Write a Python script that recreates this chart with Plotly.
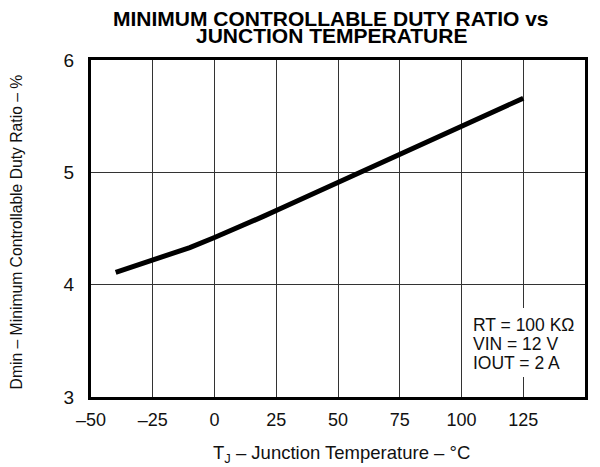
import plotly.graph_objects as go

temps = [-40, -30, -25, -20, -10, 0, 10, 20, 25, 30, 40, 50, 60, 70, 75, 80, 90, 100, 110, 120, 125]
dmin = [4.11, 4.18, 4.22, 4.25, 4.33, 4.42, 4.51, 4.61, 4.66, 4.71, 4.80, 4.90, 5.00, 5.10, 5.155, 5.21, 5.31, 5.41, 5.51, 5.61, 5.66]

x_ticks = [-50, -25, 0, 25, 50, 75, 100, 125, 150]
x_tick_labels = ["–50", "–25", "0", "25", "50", "75", "100", "125", "150"]
y_ticks = [3, 4, 5, 6]
y_tick_labels = ["3", "4", "5", "6"]

title_lines = ["MINIMUM CONTROLLABLE DUTY RATIO vs", "JUNCTION TEMPERATURE"]
x_title = "T<sub>J</sub> – Junction Temperature – °C"
y_title = "Dmin – Minimum Controllable Duty Ratio – %"
conditions = ["RT = 100 KΩ", "VIN = 12 V", "IOUT = 2 A"]

font = "Liberation Sans, Arial, sans-serif"
ink = "#111"

fig = go.Figure()
fig.add_trace(go.Scatter(x=temps, y=dmin, mode="lines",
                         line=dict(color="black", width=5),
                         showlegend=False, hoverinfo="skip"))

# page has an 8px body margin, so the figure is 592x459 placed at (8, 8)
fig.update_layout(
    width=592, height=459,
    margin=dict(l=83, r=13, t=52, b=70),
    paper_bgcolor="white", plot_bgcolor="white",
    font=dict(family=font, color=ink),
    xaxis=dict(range=[-50, 150], tickvals=x_ticks, ticktext=x_tick_labels,
               showgrid=True, gridcolor="#333", gridwidth=1,
               showline=True, linecolor="black", linewidth=3, mirror=True,
               ticks="", tickfont=dict(size=18, color=ink), zeroline=False,
               ticklabelstandoff=4),
    yaxis=dict(range=[3, 6], tickvals=y_ticks, ticktext=y_tick_labels,
               showgrid=True, gridcolor="#333", gridwidth=1,
               showline=True, linecolor="black", linewidth=3, mirror=True,
               ticks="", tickfont=dict(size=19, color=ink), zeroline=False,
               ticklabelstandoff=10),
)

# title (two tightly spaced lines)
for txt, yy in zip(title_lines, [1.1240, 1.0720]):
    fig.add_annotation(x=0.486, y=yy, xref="paper", yref="paper",
                       xanchor="center", yanchor="middle", showarrow=False,
                       text="<b>" + txt + "</b>",
                       font=dict(size=21, color="black", family=font))

# axis titles
fig.add_annotation(x=0.507, y=-0.170, xref="paper", yref="paper",
                   xanchor="center", yanchor="middle", showarrow=False,
                   text=x_title, font=dict(size=18.5, color=ink, family=font))
fig.add_annotation(x=-0.150, y=0.491, xref="paper", yref="paper",
                   xanchor="center", yanchor="middle", showarrow=False,
                   textangle=-90, text=y_title,
                   font=dict(size=15.7, color=ink, family=font))

# white box behind the conditions text (hides the grid line there)
fig.add_shape(type="rect", xref="paper", yref="paper",
              x0=0.760, x1=0.994, y0=0.0593, y1=0.2641,
              fillcolor="white", line=dict(width=0), layer="above")
for txt, yy in zip(conditions, [0.2151, 0.1582, 0.1018]):
    fig.add_annotation(x=0.770, y=yy, xref="paper", yref="paper",
                       xanchor="left", yanchor="middle", showarrow=False,
                       text=txt, font=dict(size=17.5, color=ink, family=font))

fig.write_html("out.html")
